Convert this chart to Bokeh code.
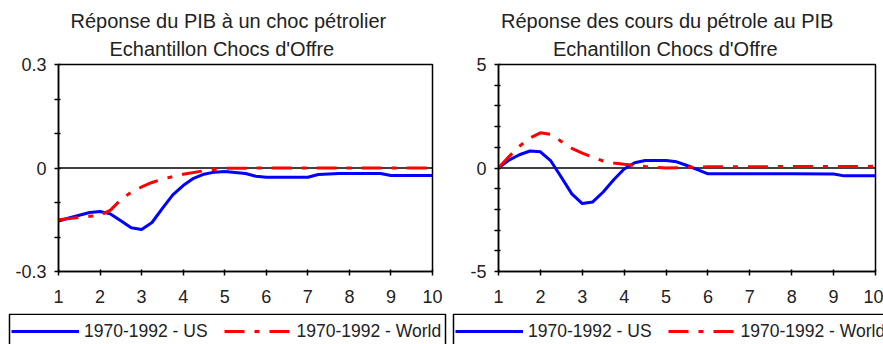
import numpy as np
from bokeh.plotting import figure
from bokeh.models import Range1d, FixedTicker, Span, Legend, LegendItem, Title, BoxAnnotation
from bokeh.layouts import row, column
from bokeh.embed import file_html
from bokeh.resources import INLINE

FONT = "Liberation Sans"
TEXT = "#222222"
US_STYLE = dict(line_color="#0000ff", line_width=3)
WORLD_STYLE = dict(line_color="#ff0000", line_width=3, line_dash="20 10 5 10")

# Horizon after the shock (years)
x_ticks = list(range(1, 11))

# Left panel: GDP response to an oil shock
gdp_us_x = [1, 1.25, 1.5, 1.75, 2, 2.25, 2.5, 2.75, 3, 3.25, 3.5, 3.75, 4, 4.25, 4.5,
            4.75, 5, 5.5, 5.75, 6, 7, 7.25, 7.75, 8.75, 9, 10]
gdp_us_y = [-0.154, -0.145, -0.137, -0.129, -0.126, -0.133, -0.153, -0.173, -0.178, -0.158,
            -0.117, -0.078, -0.051, -0.030, -0.018, -0.012, -0.010, -0.016, -0.024, -0.027,
            -0.027, -0.019, -0.016, -0.016, -0.022, -0.022]
gdp_world_x = [1, 1.5, 1.75, 2, 2.25, 2.5, 2.75, 3, 3.25, 3.5, 3.75, 4, 4.5, 5, 6, 7, 8, 9, 10]
gdp_world_y = [-0.150, -0.143, -0.140, -0.137, -0.122, -0.092, -0.070, -0.055, -0.042, -0.032,
               -0.025, -0.018, -0.008, -0.001, 0.0, 0.0, 0.0, 0.0, 0.0]

# Right panel: oil price response to GDP
oil_us_x = [1, 1.25, 1.5, 1.75, 2, 2.25, 2.5, 2.75, 3, 3.25, 3.5, 3.75, 4, 4.25, 4.5,
            5, 5.25, 5.5, 5.75, 6, 7, 8, 9, 9.25, 10]
oil_us_y = [0.0, 0.38, 0.64, 0.82, 0.78, 0.34, -0.45, -1.25, -1.72, -1.64, -1.16, -0.57,
            -0.05, 0.25, 0.36, 0.36, 0.30, 0.12, -0.08, -0.28, -0.28, -0.28, -0.29, -0.38, -0.38]
oil_world_x = [1, 1.25, 1.5, 1.75, 2, 2.25, 2.5, 2.75, 3, 3.25, 3.5, 3.75, 4, 4.5, 5, 5.5,
               6, 7, 8, 9, 10]
oil_world_y = [0.0, 0.55, 1.05, 1.45, 1.70, 1.62, 1.28, 0.95, 0.72, 0.52, 0.34, 0.24, 0.18,
               0.07, 0.0, 0.03, 0.06, 0.06, 0.07, 0.07, 0.08]

gdp_y_ticks = [-0.3, 0, 0.3]
gdp_y_labels = ["-0.3", "0", "0.3"]
gdp_y_minor = [-0.2, -0.1, 0.1, 0.2]
oil_y_ticks = [-5, 0, 5]
oil_y_labels = ["-5", "0", "5"]
oil_y_minor = [-4, -3, -2, -1, 1, 2, 3, 4]

series_labels = ["1970-1992 - US", "1970-1992 - World"]

STRIP_H = 31


def heading(text, offset, standoff):
    return Title(text=text, align="left", offset=offset, standoff=standoff,
                 text_font=FONT, text_font_size="20px", text_font_style="normal",
                 text_color=TEXT)


def panel(title1, title2, xu, yu, xw, yw, lim, ticks, labels, minor,
          width, b_left, b_right, off1, off2):
    p = figure(width=width, height=313, x_range=Range1d(1, 10), y_range=Range1d(-lim, lim),
               output_backend="svg", toolbar_location=None,
               min_border_left=b_left, min_border_right=b_right,
               min_border_top=64, min_border_bottom=42)
    p.background_fill_color = "white"
    p.border_fill_color = "white"
    p.outline_line_color = "black"
    p.outline_line_width = 1.5
    p.xgrid.visible = False
    p.ygrid.visible = False

    # two-line heading: the second line sits next to the frame
    p.add_layout(heading(title2, off2, 9), "above")
    p.add_layout(heading(title1, off1, 0), "above")

    p.add_layout(Span(location=0, dimension="width", line_color="black",
                      line_width=1.5, level="underlay"))

    p.line(xu, yu, **US_STYLE)
    p.line(xw, yw, **WORLD_STYLE)

    for ax in (p.xaxis, p.yaxis):
        ax.axis_line_color = "black"
        ax.axis_line_width = 1.5
        ax.major_tick_line_color = "black"
        ax.major_tick_line_width = 1.5
        ax.major_tick_out = 4
        ax.major_tick_in = 2
        ax.major_label_text_font = FONT
        ax.major_label_text_font_size = "18px"
        ax.major_label_text_color = TEXT

    p.xaxis.ticker = FixedTicker(ticks=x_ticks)
    p.xaxis.minor_tick_line_color = None
    p.xaxis.major_label_standoff = 14

    p.yaxis.ticker = FixedTicker(ticks=ticks, minor_ticks=minor)
    p.yaxis.major_label_overrides = dict(zip(ticks, labels))
    p.yaxis.minor_tick_line_color = "black"
    p.yaxis.minor_tick_line_width = 1.5
    p.yaxis.minor_tick_out = 4
    p.yaxis.minor_tick_in = 2
    p.yaxis.major_label_standoff = 8
    return p


def legend_strip(width, box_left, box_right):
    # strip under each chart, one unit per pixel, holding the boxed legend;
    # the key lines hold no visible points
    s = figure(width=width, height=STRIP_H, title=None,
               x_range=Range1d(0, width), y_range=Range1d(0, STRIP_H),
               output_backend="svg", toolbar_location=None,
               x_axis_location=None, y_axis_location=None,
               min_border_left=0, min_border_right=0, min_border_top=0, min_border_bottom=0)
    s.outline_line_color = None
    s.xgrid.visible = False
    s.ygrid.visible = False
    s.add_layout(BoxAnnotation(left=box_left, right=box_right, top=STRIP_H - 0.75,
                               bottom=-10, fill_alpha=0, line_color="black",
                               line_width=1.5, line_alpha=1))
    blank = np.array([np.nan])
    r_us = s.line(blank, blank, **US_STYLE)
    r_w = s.line(blank, blank, **WORLD_STYLE)
    legend = Legend(items=[LegendItem(label=series_labels[0], renderers=[r_us]),
                           LegendItem(label=series_labels[1], renderers=[r_w])],
                    orientation="horizontal", location=(box_left + 2, -0.25),
                    border_line_color=None, background_fill_alpha=0,
                    padding=3, spacing=16, margin=0,
                    glyph_width=68, glyph_height=26, label_height=26, label_standoff=5,
                    label_text_font=FONT, label_text_font_size="17.5px",
                    label_text_color=TEXT)
    s.add_layout(legend)
    return s


left = panel("Réponse du PIB à un choc pétrolier", "Echantillon Chocs d'Offre",
             gdp_us_x, gdp_us_y, gdp_world_x, gdp_world_y, 0.3,
             gdp_y_ticks, gdp_y_labels, gdp_y_minor,
             width=447, b_left=58, b_right=15, off1=12, off2=51)
right = panel("Réponse des cours du pétrole au PIB", "Echantillon Chocs d'Offre",
              oil_us_x, oil_us_y, oil_world_x, oil_world_y, 5,
              oil_y_ticks, oil_y_labels, oil_y_minor,
              width=436, b_left=51, b_right=8, off1=2.5, off2=54.5)

layout = column(row(left, right),
                row(legend_strip(447, 9, 445), legend_strip(436, 6, 446)))
open("out.html", "w").write(file_html(layout, INLINE))
